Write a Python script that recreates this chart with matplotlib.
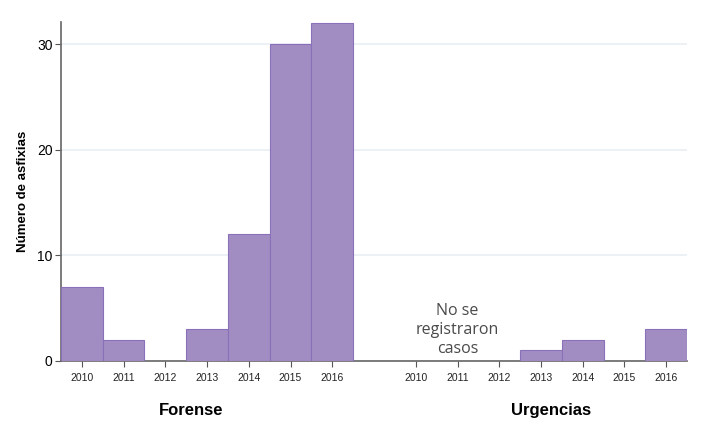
import matplotlib.pyplot as plt
import numpy as np

# datos
anios = ["2010", "2011", "2012", "2013", "2014", "2015", "2016"]
forense = [7, 2, 0, 3, 12, 30, 32]
urgencias = [0, 0, 0, 1, 2, 0, 3]
grupos = ["Forense", "Urgencias"]
nota = "No se\nregistraron\ncasos"

plt.rcParams['font.family'] = 'sans-serif'
plt.rcParams['font.sans-serif'] = ['Liberation Sans', 'DejaVu Sans']

color_barra = "#a28dc3"
color_borde = "#8a70b9"


def main():
    fig = plt.figure(figsize=(7.04, 4.44), dpi=100)
    ax = fig.add_axes([0.0866, 0.187, 0.8894, 0.7635])

    x_f = np.arange(len(anios))
    x_u = np.arange(len(anios)) + len(anios) + 1

    for xs, vals in [(x_f, forense), (x_u, urgencias)]:
        xs_nz = [x for x, v in zip(xs, vals) if v > 0]
        v_nz = [v for v in vals if v > 0]
        ax.bar(xs_nz, v_nz, width=1.0, color=color_barra,
               edgecolor=color_borde, linewidth=0.8, zorder=3)

    ax.set_xlim(-0.5, 14.5)
    ax.set_ylim(0, 32.1)
    ax.set_yticks([0, 10, 20, 30])
    ax.set_xticks(list(x_f) + list(x_u))
    ax.set_xticklabels(anios + anios, fontsize=7.5, color="#222222")
    ax.tick_params(axis="y", labelsize=10, length=4, color="#555555", pad=2)
    ax.tick_params(axis="x", length=4, color="#555555", pad=5)

    ax.grid(axis="y", color="#e9eff4", linewidth=1.2, zorder=0)
    for s in ["top", "right"]:
        ax.spines[s].set_visible(False)
    ax.spines["left"].set_color("#666666")
    ax.spines["bottom"].set_color("#666666")
    ax.spines["left"].set_linewidth(1.2)
    ax.spines["bottom"].set_linewidth(1.2)

    ax.set_ylabel("Número de asfixias", fontsize=9.5, fontweight="bold", labelpad=6)

    ax.text(x_u[1], 0.4, nota, ha="center", va="bottom", fontsize=11.5,
            family=["Open Sans", "DejaVu Sans"], color="#4a4a4a",
            linespacing=1.25)

    ax.text(2.61, -0.145, grupos[0], transform=ax.get_xaxis_transform(),
            ha="center", va="center", fontsize=12, fontweight="bold")
    ax.text(11.23, -0.145, grupos[1], transform=ax.get_xaxis_transform(),
            ha="center", va="center", fontsize=12, fontweight="bold")

    fig.savefig("out.png", dpi=100)


if __name__ == "__main__":
    main()
